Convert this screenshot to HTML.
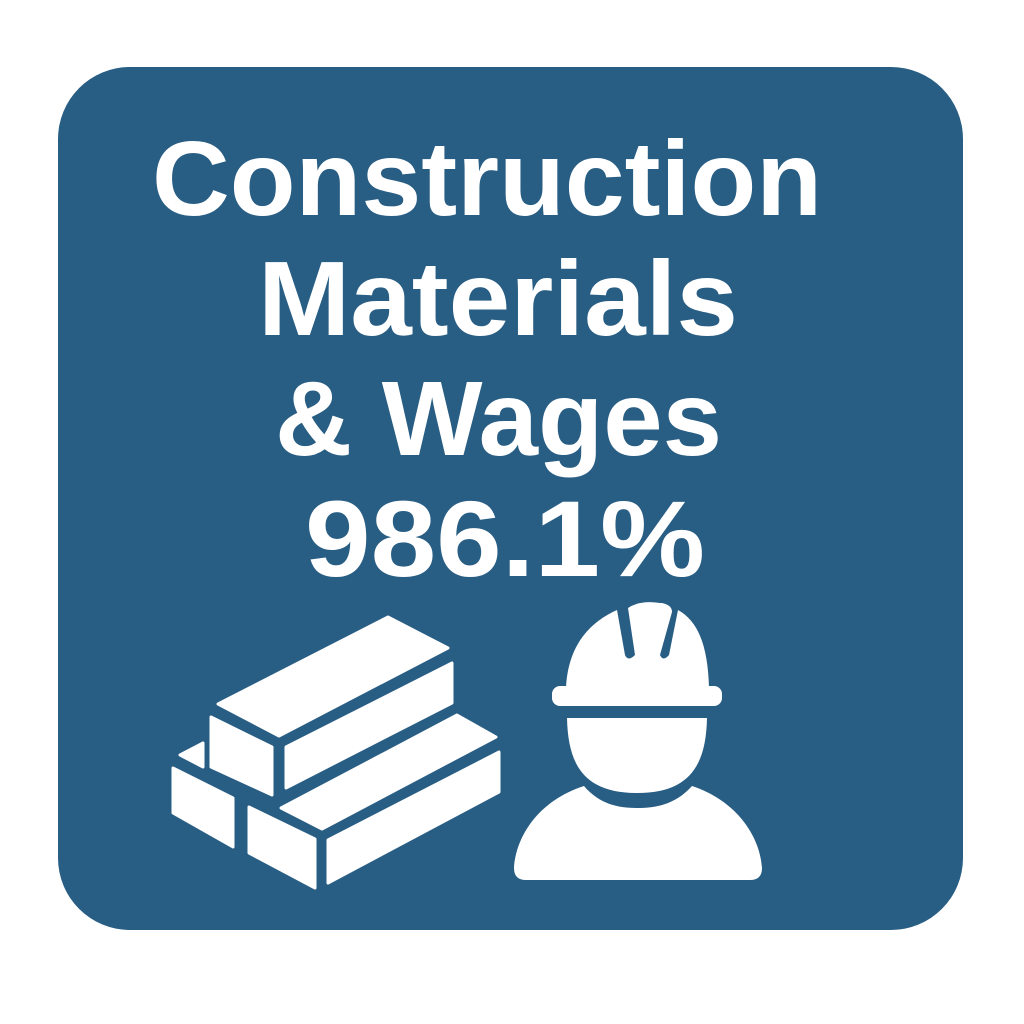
<!DOCTYPE html>
<html><head><meta charset="utf-8"><style>
html,body{margin:0;padding:0;background:#fff;width:1024px;height:1024px;overflow:hidden}
svg{display:block}
text{font-family:"Liberation Sans",sans-serif;font-weight:bold;fill:#fff}
</style></head><body>
<svg width="1024" height="1024" viewBox="0 0 1024 1024">
<rect x="58" y="67" width="905" height="863" rx="72" fill="#285d84"/>
<text x="152" y="215" font-size="106" textLength="670" lengthAdjust="spacingAndGlyphs">Construction</text>
<text x="258" y="335" font-size="106" textLength="480" lengthAdjust="spacingAndGlyphs">Materials</text>
<text x="275" y="455" font-size="106" textLength="447" lengthAdjust="spacingAndGlyphs">&amp; Wages</text>
<text x="305" y="576" font-size="108" textLength="400" lengthAdjust="spacingAndGlyphs">986.1%</text>
<g fill="#fff" stroke="#fff" stroke-width="3" stroke-linejoin="round">
<polygon points="218,704 388,617 448,648 279,736"/>
<polygon points="211,717 272,747 272,795 211,767"/>
<polygon points="286,747 452,663 452,703 286,788"/>
<polygon points="180,755 203,743 203,767"/>
<polygon points="173,768 233,798 233,847 173,813"/>
<polygon points="281,808 457,715 496,737 322,829"/>
<polygon points="249,807 315,839 315,888 249,853"/>
<polygon points="328,840 499,752 499,792 328,883"/>
</g>
<g fill="#fff">
<path d="M565,688 C565,640 590,615 625,605 L635,655 Q640,662 646,655 L616,607 Z" opacity="0"/>
<path d="M566,688 C568,645 590,622 617,610 L625,655 Q628,662 635,655 L628,608 Q640,600 660,603 L662,603 Q672,605 672,612 L660,655 Q663,662 669,655 L678,610 C700,622 708,650 709,688 Z"/>
<rect x="552" y="686" width="170" height="20" rx="8"/>
<path d="M567,718 L707,718 C706,765 690,793 637,793 C584,793 568,765 567,718 Z"/>
<path d="M584,786 C600,805 620,808 637,808 C655,808 675,805 692,786 C735,800 760,835 762,868 Q762,880 750,880 L526,880 Q514,880 514,868 C516,835 540,800 584,786 Z"/>
</g>
</svg>
</body></html>
